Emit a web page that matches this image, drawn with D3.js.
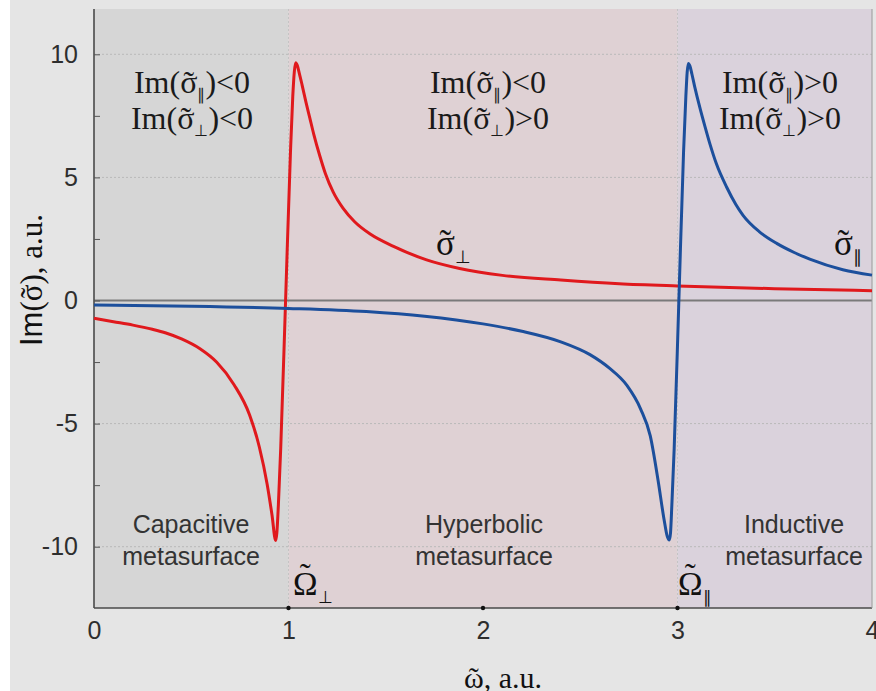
<!DOCTYPE html>
<html>
<head>
<meta charset="utf-8">
<script src="https://cdn.jsdelivr.net/npm/d3@7"></script>
<style>
  body { margin: 0; background: #ffffff; }
  svg { display: block; }
</style>
</head>
<body>
<svg id="chart" width="876" height="691"></svg>
<script>
// Im(sigma) of an anisotropic metasurface

// x ticks / y ticks
const xTicks = [0, 1, 2, 3, 4];
const yTicks = [-10, -5, 0, 5, 10];
const yMinor = [-7.5, -2.5, 2.5, 7.5];

// red curve, sigma perp (resonance near 1)
const perpOmega = [0.00, 0.10, 0.20, 0.30, 0.37, 0.45, 0.545, 0.63, 0.72, 0.80, 0.85, 0.89, 0.915, 0.934,
                   0.940, 0.948, 0.960, 0.985, 1.010, 1.022, 1.030, 1.037,
                   1.045, 1.055, 1.07, 1.09, 1.11, 1.13, 1.16, 1.19, 1.23, 1.28, 1.34, 1.42, 1.54, 1.71,
                   1.88, 2.10, 2.40, 2.70, 3.00, 3.50, 4.00];
const perpIm    = [-0.72, -0.86, -1.00, -1.17, -1.32, -1.56, -1.96, -2.50, -3.42, -4.65, -5.95, -7.45, -8.70, -9.75,
                   -9.45, -8.30, -6.00, 0.00, 6.00, 8.30, 9.30, 9.66,
                   9.55, 9.25, 8.75, 8.05, 7.40, 6.75, 5.90, 5.15, 4.40, 3.75, 3.20, 2.70, 2.20, 1.65,
                   1.30, 1.02, 0.83, 0.68, 0.59, 0.48, 0.40];

// blue curve, sigma parallel (resonance near 3)
const parOmega = [0.00, 0.50, 1.00, 1.40, 1.70, 2.00, 2.20, 2.40, 2.55, 2.65, 2.74, 2.81, 2.86, 2.90, 2.93, 2.948, 2.958,
                  2.964, 2.971, 2.983, 3.007, 3.031, 3.043, 3.050, 3.056,
                  3.064, 3.074, 3.088, 3.10, 3.116, 3.14, 3.167, 3.20, 3.253, 3.30, 3.338, 3.42, 3.51, 3.60,
                  3.68, 3.85, 4.00];
const parIm    = [-0.18, -0.23, -0.32, -0.45, -0.64, -0.95, -1.25, -1.68, -2.20, -2.75, -3.45, -4.40, -5.50, -7.30, -8.85, -9.60, -9.73,
                  -9.45, -8.30, -6.00, 0.00, 6.00, 8.30, 9.30, 9.63,
                  9.52, 9.20, 8.70, 8.30, 7.80, 7.10, 6.35, 5.55, 4.60, 3.90, 3.45, 2.80, 2.32, 1.95,
                  1.68, 1.25, 1.03];

// shaded regimes
const regionNames = ["capacitive", "hyperbolic", "inductive"];
const regionStart = [0, 1, 3];
const regionEnd   = [1, 3, 4];
const regionFill  = ["#d6d6d6", "#dfd1d4", "#dad2dc"];

const svg = d3.select("#chart");

const pLeft = 94, pRight = 872, pTop = 9, pBottom = 608;
const x = d3.scaleLinear().domain([0, 4]).range([pLeft, pRight]);
const y = d3.scaleLinear().domain([-12.49, 11.84]).range([pBottom, pTop]);

const serif = "'Liberation Serif', 'Times New Roman', serif";
const sans  = "'Liberation Sans', Arial, Helvetica, sans-serif";
const TILDE = "\u02dc";

// outer background with a thin white strip at the left
svg.append("rect")
        .attr("x", 10).attr("y", 0)
        .attr("width", 866).attr("height", 691)
        .attr("fill", "#e5e5e5");

// regime backgrounds
svg.selectAll("rect.region")
        .data(regionNames)
        .enter().append("rect")
        .attr("class", "region")
        .attr("x", (d, i) => x(regionStart[i]))
        .attr("y", pTop)
        .attr("width", (d, i) => x(regionEnd[i]) - x(regionStart[i]))
        .attr("height", pBottom - pTop)
        .attr("fill", (d, i) => regionFill[i]);

// dotted grid lines
svg.selectAll("line.hgrid")
        .data(yTicks.filter(d => d != 0))
        .enter().append("line")
        .attr("class", "hgrid")
        .attr("x1", pLeft).attr("x2", pRight)
        .attr("y1", d => y(d)).attr("y2", d => y(d))
        .attr("stroke", "#b9b9b9")
        .attr("stroke-width", 1)
        .attr("stroke-dasharray", "2,2");

svg.selectAll("line.vgrid")
        .data([1, 3])
        .enter().append("line")
        .attr("class", "vgrid")
        .attr("x1", d => x(d)).attr("x2", d => x(d))
        .attr("y1", pTop).attr("y2", pBottom)
        .attr("stroke", "#c4c4c4")
        .attr("stroke-width", 1)
        .attr("stroke-dasharray", "2,2");

// zero line
svg.append("line")
        .attr("x1", pLeft).attr("x2", pRight)
        .attr("y1", y(0)).attr("y2", y(0))
        .attr("stroke", "#7a7a7a")
        .attr("stroke-width", 2);

// axes
const yAxis = svg.append("g")
        .attr("transform", "translate(" + pLeft + ",0)")
        .call(d3.axisLeft(y).tickValues(yTicks).tickSize(-6).tickPadding(16).tickFormat(d => String(d)));
svg.append("g")
        .attr("transform", "translate(" + pLeft + ",0)")
        .call(d3.axisLeft(y).tickValues(yMinor).tickSize(-6).tickFormat(""))
        .call(g => g.select(".domain").remove())
        .call(g => g.selectAll(".tick line").attr("stroke", "#555"));

const xAxis = svg.append("g")
        .attr("transform", "translate(0," + pBottom + ")")
        .call(d3.axisBottom(x).tickValues(xTicks).tickSize(0).tickPadding(13).tickFormat(d => String(d)));

[yAxis, xAxis].forEach(g => {
        g.select(".domain").attr("stroke", "#4a4a4a").attr("stroke-width", 1.6);
        g.selectAll(".tick line").attr("stroke", "#555");
        g.selectAll(".tick text")
                .attr("fill", "#2e2e2e")
                .attr("font-family", sans)
                .attr("font-size", "25px");
});
yAxis.select(".domain").attr("d", "M0," + pTop + "V" + pBottom);
xAxis.select(".domain").attr("d", "M" + pLeft + ",0H" + pRight);

// little dots on the frequency axis
svg.selectAll("circle.xdot")
        .data([1, 2, 3])
        .enter().append("circle")
        .attr("class", "xdot")
        .attr("cx", d => x(d)).attr("cy", pBottom)
        .attr("r", 2.2)
        .attr("fill", "#111");

// right edge of the frame
svg.append("line")
        .attr("x1", pRight).attr("x2", pRight)
        .attr("y1", pTop).attr("y2", pBottom)
        .attr("stroke", "#9a9a9a")
        .attr("stroke-width", 1);

// curves
const line = d3.line()
        .x(d => x(d[0]))
        .y(d => y(d[1]))
        .curve(d3.curveMonotoneX);

svg.append("path")
        .datum(d3.zip(perpOmega, perpIm))
        .attr("d", line)
        .attr("fill", "none")
        .attr("stroke", "#e0191d")
        .attr("stroke-width", 3);

svg.append("path")
        .datum(d3.zip(parOmega, parIm))
        .attr("d", line)
        .attr("fill", "none")
        .attr("stroke", "#1c4f9c")
        .attr("stroke-width", 3);

// puts a tilde over character idx of a text element (as a tspan of the same text)
function addTilde(textSel, idx, lift){
        const ext = textSel.node().getExtentOfChar(idx);
        const by = +textSel.attr("y") || 0;
        textSel.append("tspan")
                .attr("x", ext.x + ext.width / 2)
                .attr("y", by - lift)
                .attr("text-anchor", "middle")
                .attr("font-family", serif)
                .text(TILDE);
}

// Im(..) sign annotations
function signLabel(cx, by, sub, rel){
        const t = svg.append("text")
                .attr("x", cx).attr("y", by)
                .attr("text-anchor", "middle")
                .attr("font-family", serif)
                .attr("font-size", "32px")
                .attr("fill", "#1a1a1a");
        t.append("tspan").text("Im(\u03c3");
        t.append("tspan").attr("dy", 7).attr("font-size", "16px").attr("font-family", sans).text(sub);
        t.append("tspan").attr("dy", -7).text(")" + rel + "0");
        addTilde(t, 3, 0);
}

const PAR = "\u2225", PERP = "\u22a5";
signLabel(192, 93, PAR, "<");
signLabel(192, 129, PERP, "<");
signLabel(488, 93, PAR, "<");
signLabel(488, 129, PERP, ">");
signLabel(780, 93, PAR, ">");
signLabel(780, 129, PERP, ">");

// regime captions
function caption(cx, l1, l2){
        const t = svg.append("text")
                .attr("text-anchor", "middle")
                .attr("font-family", sans)
                .attr("font-size", "25px")
                .attr("fill", "#333");
        t.append("tspan").attr("x", cx).attr("y", 533).text(l1);
        t.append("tspan").attr("x", cx).attr("y", 565).text(l2);
}
caption(191, "Capacitive", "metasurface");
caption(484, "Hyperbolic", "metasurface");
caption(794, "Inductive", "metasurface");

// symbol with tilde and subscript
function symbol(x0, by, glyph, sub, size, lift){
        const t = svg.append("text")
                .attr("x", x0).attr("y", by)
                .attr("font-family", serif)
                .attr("font-size", size + "px")
                .attr("fill", "#111");
        t.append("tspan").text(glyph);
        t.append("tspan").attr("dy", 8).attr("font-size", (size * 0.5) + "px").attr("font-family", sans).text(sub);
        addTilde(t, 0, lift);
}
symbol(436, 255, "\u03c3", PERP, 35, 0);
symbol(834, 255, "\u03c3", PAR, 35, 0);
symbol(293, 595, "\u03a9", PERP, 33, 8);
symbol(678, 595, "\u03a9", PAR, 33, 8);

// axis titles
const yt = svg.append("g").attr("transform", "translate(42,280) rotate(-90)")
        .append("text")
        .attr("x", 0).attr("y", 0)
        .attr("text-anchor", "middle")
        .attr("font-size", "31px")
        .attr("fill", "#111");
yt.append("tspan").attr("font-family", sans).text("Im");
yt.append("tspan").attr("font-family", serif).text("(\u03c3), a.u.");
addTilde(yt, 3, 0);

const xt = svg.append("text")
        .attr("x", 503).attr("y", 688)
        .attr("text-anchor", "middle")
        .attr("font-family", serif)
        .attr("font-size", "30px")
        .attr("fill", "#111");
xt.append("tspan").text("\u03c9, a.u.");
addTilde(xt, 0, 0);
</script>
</body>
</html>
